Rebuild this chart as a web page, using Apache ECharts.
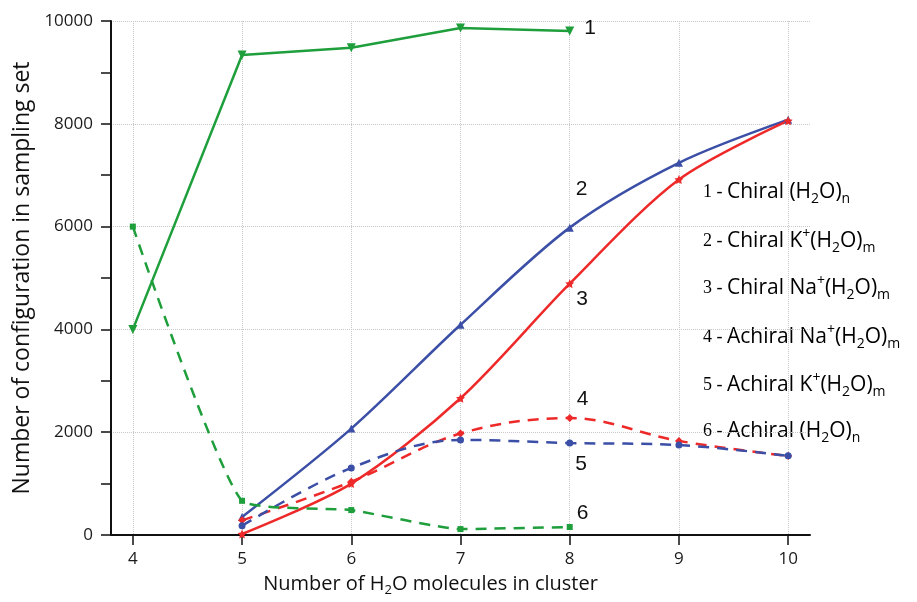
<!DOCTYPE html>
<html>
<head>
<meta charset="utf-8">
<title>Configurations in sampling set</title>
<script src="https://cdn.jsdelivr.net/npm/echarts@6/dist/echarts.min.js"></script>
<style>
    html, body { margin: 0; padding: 0; background: #fff; }
    #chart { width: 917px; height: 602px; }
</style>
</head>
<body>
<div id="chart"></div>
<script>
    // cluster sizes (number of H2O molecules)
    var sizesFrom4 = [4, 5, 6, 7, 8];
    var sizesFrom5 = [5, 6, 7, 8, 9, 10];
    var xTicks = [4, 5, 6, 7, 8, 9, 10];

    // series values
    var chiralWater = [4000, 9340, 9480, 9865, 9805];      // 1
    var chiralK = [350, 2070, 4090, 5980, 7240, 8080];      // 2
    var chiralNa = [20, 1000, 2660, 4890, 6915, 8060];      // 3
    var achiralNa = [285, 1035, 1975, 2275, 1830, 1535];    // 4
    var achiralK = [180, 1305, 1850, 1790, 1750, 1540];     // 5
    var achiralWater = [6000, 665, 485, 115, 155];          // 6

    var GREEN = '#1f9e3c', BLUE = '#3b4fa6', RED = '#ee2929';
    var sans = '"Open Sans", "Noto Sans", sans-serif';
    var STAR = 'path://M0,-10L2.9,-4L9.5,-3.1L4.7,1.5L5.9,8.1L0,5L-5.9,8.1L-4.7,1.5L-9.5,-3.1L-2.9,-4Z';

    // pairs [x, y], with the curve number label placed at x = 8
    function pairs(xs, ys, tag, offset) {
        return xs.map(function (x, i) {
            var item = { value: [x, ys[i]] };
            if (x === 8) {
                item.label = {
                    show: true, formatter: tag, position: 'right', offset: offset,
                    fontFamily: '"Liberation Sans", Arial, sans-serif', fontSize: 21, color: '#111'
                };
            }
            return item;
        });
    }

    function line(name, xs, ys, color, dashed, symbol, smooth, tag, offset) {
        return {
            name: name, type: 'line',
            data: pairs(xs, ys, tag, offset),
            smooth: smooth,
            symbol: symbol, symbolSize: 8,
            itemStyle: { color: color },
            lineStyle: { color: color, width: 2.5, type: dashed ? [11, 8] : 'solid' },
            z: 3
        };
    }

    var rich = {
        t: { fontFamily: sans, fontSize: 21, color: '#111', lineHeight: 28 },
        n: { fontFamily: '"Liberation Serif", serif', fontSize: 18, color: '#222', lineHeight: 28 },
        sub: { fontFamily: sans, fontSize: 14, color: '#111', verticalAlign: 'bottom', lineHeight: 15 },
        sup: { fontFamily: sans, fontSize: 14, color: '#111', verticalAlign: 'top', lineHeight: 15 }
    };

    var legendLines = [
        '{n|1 - }{t|Chiral (H}{sub|2}{t|O)}{sub|n}',
        '{n|2 - }{t|Chiral K}{sup|+}{t|(H}{sub|2}{t|O)}{sub|m}',
        '{n|3 - }{t|Chiral Na}{sup|+}{t|(H}{sub|2}{t|O)}{sub|m}',
        '{n|4 - }{t|Achiral Na}{sup|+}{t|(H}{sub|2}{t|O)}{sub|m}',
        '{n|5 - }{t|Achiral K}{sup|+}{t|(H}{sub|2}{t|O)}{sub|m}',
        '{n|6 - }{t|Achiral (H}{sub|2}{t|O)}{sub|n}'
    ];
    var legendTops = [182, 227, 274, 323, 371, 421];

    var chart = echarts.init(document.getElementById('chart'));

    var option = {
        animation: false,
        grid: { left: 111, right: 107, top: 21, bottom: 66 },
        xAxis: {
            type: 'value', min: 3.8, max: 10.2,
            name: '{t|Number of H}{s|2}{t|O molecules in cluster}',
            nameLocation: 'middle', nameGap: 36,
            nameTextStyle: {
                padding: [0, 60, 0, 0],
                rich: {
                    t: { fontFamily: sans, fontSize: 20, color: '#111', lineHeight: 26 },
                    s: { fontFamily: sans, fontSize: 13, color: '#111', verticalAlign: 'bottom', lineHeight: 14 }
                }
            },
            axisLine: { onZero: false, lineStyle: { color: '#111', width: 2 } },
            axisTick: { customValues: xTicks, length: 10, lineStyle: { color: '#111', width: 1.5 } },
            axisLabel: { customValues: xTicks, margin: 16, fontFamily: sans, fontSize: 17, color: '#1a1a1a' },
            splitLine: { show: true, lineStyle: { color: '#c8c8c8', type: 'dotted' } }
        },
        yAxis: {
            type: 'value', min: 0, max: 10000, interval: 2000,
            name: 'Number of configuration in sampling set',
            nameLocation: 'middle', nameGap: 72,
            nameTextStyle: { fontFamily: sans, fontSize: 23, color: '#111' },
            axisLine: { show: true, lineStyle: { color: '#111', width: 2 } },
            axisTick: { length: 10, lineStyle: { color: '#111', width: 1.5 } },
            minorTick: { show: true, splitNumber: 2, length: 10, lineStyle: { color: '#111', width: 1.5 } },
            axisLabel: {
                margin: 18, fontFamily: sans, fontSize: 17, color: '#1a1a1a',
                formatter: function (v) { return String(v); }
            },
            splitLine: { show: true, lineStyle: { color: '#c8c8c8', type: 'dotted' } }
        },
        graphic: legendLines.map(function (txt, i) {
            return { type: 'text', left: 703, top: legendTops[i], style: { text: txt, rich: rich } };
        }),
        series: [
            line('Chiral (H2O)n', sizesFrom4, chiralWater, GREEN, false, 'triangle', false, '1', [5, -3]),
            line('Chiral K+(H2O)m', sizesFrom5, chiralK, BLUE, false, 'triangle', 0.3, '2', [-3, -38]),
            line('Chiral Na+(H2O)m', sizesFrom5, chiralNa, RED, false, STAR, 0.3, '3', [-3, 16]),
            line('Achiral Na+(H2O)m', sizesFrom5, achiralNa, RED, true, 'diamond', 0.35, '4', [-2, -19]),
            line('Achiral K+(H2O)m', sizesFrom5, achiralK, BLUE, true, 'circle', 0.35, '5', [-3, 21]),
            line('Achiral (H2O)n', sizesFrom4, achiralWater, GREEN, true, 'rect', 0.15, '6', [-1, -14])
        ]
    };
    option.series[0].symbolRotate = 180;
    option.series[0].symbolSize = 9;
    option.series[2].symbolSize = 9;
    option.series[4].symbolSize = 7;
    option.series[5].symbolSize = 6;

    chart.setOption(option);
</script>
</body>
</html>
